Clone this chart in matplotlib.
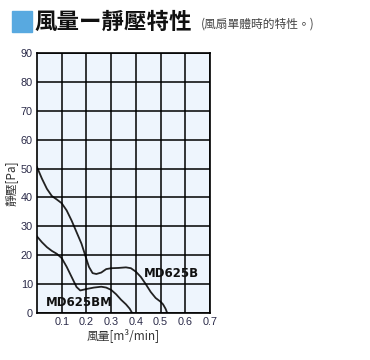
import numpy as np
import matplotlib.pyplot as plt
import matplotlib.ticker as ticker
from matplotlib.patches import Rectangle

plt.rcParams['font.family'] = ['Liberation Sans', 'Noto Sans CJK TC', 'DejaVu Sans']

# MD625B curve (flow m3/min, static pressure Pa)
b_flow = [0, 0.02, 0.04, 0.06, 0.08, 0.1, 0.12, 0.14, 0.16, 0.18, 0.195, 0.21, 0.225,
          0.24, 0.26, 0.28, 0.3, 0.33, 0.36, 0.38, 0.40, 0.42, 0.44, 0.46, 0.48, 0.5,
          0.51, 0.52, 0.527]
b_pres = [50.5, 46.5, 43, 40.5, 39.3, 38, 35.5, 32, 28, 24, 20, 16, 13.8,
          13.5, 14, 15.2, 15.5, 15.6, 15.8, 15.5, 14.3, 12.5, 10, 7.3, 5.2, 3.9,
          3.0, 1.5, 0]

# MD625BM curve
bm_flow = [0, 0.02, 0.04, 0.06, 0.08, 0.1, 0.12, 0.14, 0.16, 0.175, 0.2, 0.23, 0.26,
           0.28, 0.3, 0.32, 0.34, 0.36, 0.375, 0.385]
bm_pres = [26.5, 24.5, 22.8, 21.5, 20.5, 19, 16, 12.5, 9, 7.8, 8.3, 8.8, 9.1,
           8.8, 8, 6.5, 4.6, 3.0, 1.5, 0]

xticks = [0.1, 0.2, 0.3, 0.4, 0.5, 0.6, 0.7]
yticks = [0, 10, 20, 30, 40, 50, 60, 70, 80, 90]

fig = plt.figure(figsize=(3.7, 3.6), dpi=100)
ax = fig.add_axes([37/370, 1-313/360, 173/370, 260/360])
ax.set_facecolor('#eef5fd')

ax.plot(b_flow, b_pres, color='#222222', lw=1.3)
ax.plot(bm_flow, bm_pres, color='#222222', lw=1.3)

ax.set_xlim(0, 0.7)
ax.set_ylim(0, 90)
ax.set_xticks(xticks)
ax.set_xticklabels([str(t) for t in xticks])
ax.set_yticks(yticks)
ax.grid(True, color='black', lw=1.1)
ax.set_axisbelow(False)
for s in ax.spines.values():
    s.set_color('black')
    s.set_linewidth(1.2)
ax.tick_params(length=0, labelsize=7.8, labelcolor='#2a2a48', pad=3)

ax.text(0.542, 13.8, 'MD625B', fontsize=8.5, fontweight='bold', ha='center', va='center',
        color='#111111', family='DejaVu Sans')
ax.text(0.170, 3.8, 'MD625BM', fontsize=8.5, fontweight='bold', ha='center', va='center',
        color='#111111', family='DejaVu Sans')

ax.set_xlabel('風量[m³/min]', fontsize=8.5, color='#333333', labelpad=1,
              family=['Noto Sans CJK TC', 'DejaVu Sans'])
ax.set_ylabel('靜壓[Pa]', fontsize=8.5, color='#333333', labelpad=2,
              family=['Noto Sans CJK TC', 'DejaVu Sans'])

# title block
fig.patches.append(Rectangle((12/370, 1-32/360), 20/370, 21/360, transform=fig.transFigure,
                             color='#58a9e0', zorder=3))
fig.text(34/370, 1-22/360, '風量ー靜壓特性', fontsize=16.2, fontweight='bold', va='center',
         ha='left', color='#111111', family=['Noto Sans CJK TC', 'DejaVu Sans'])
fig.text(201/370, 1-24/360, '(風扇單體時的特性。)', fontsize=8.5, va='center', ha='left',
         color='#444444', family=['Noto Sans CJK TC', 'DejaVu Sans'])

fig.savefig('out.png', dpi=100)
